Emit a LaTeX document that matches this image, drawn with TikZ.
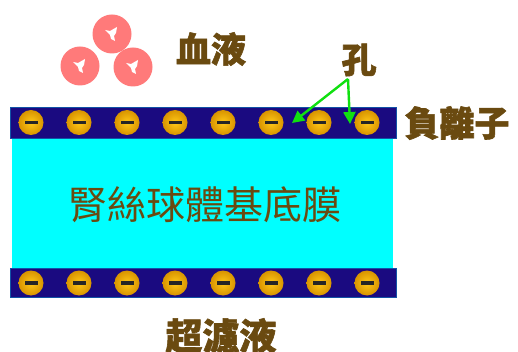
\documentclass[tikz,border=0pt]{standalone}
\usepackage{fontspec}
\newfontfamily\cjk[BoldFeatures={FakeBold=1.6}]{Noto Sans CJK TC}
\usetikzlibrary{arrows.meta,calc}
\definecolor{navyband}{HTML}{1A0A80}
\definecolor{membrane}{HTML}{00FFFF}
\definecolor{labelbrown}{HTML}{6A4A10}
\definecolor{cellpink}{HTML}{FF7A7A}
\definecolor{ionrim}{HTML}{D89400}
\definecolor{ioncore}{HTML}{FFC818}
\definecolor{arrowgreen}{HTML}{10E010}
\tikzset{
  band/.style={fill=navyband, draw=navyband!70!cyan, line width=0.8pt},
  label/.style={text=labelbrown, font=\cjk\bfseries\fontsize{35}{35}\selectfont, inner sep=0pt},
  anion/.style={circle, minimum size=25pt, inner sep=0pt,
    inner color=ioncore, outer color=ionrim},
  pointer/.style={draw=arrowgreen, line width=2.4pt,
    -{Triangle[length=12pt,width=12pt]}},
}
% a red cell with a small irregular pale spot in the middle
\newcommand{\bloodcell}[1]{%
  \fill[cellpink] (#1) circle[radius=19.5];
  \fill[white] ($(#1)+(-7,-4)$) -- ($(#1)+(-2,-3)$) -- ($(#1)+(5,-7)$) -- ($(#1)+(4,-1)$)
    -- ($(#1)+(2,2)$) -- ($(#1)+(3,7)$) -- ($(#1)+(-1,5)$) -- ($(#1)+(-2,1)$) -- cycle;
}
\begin{document}
\begin{tikzpicture}[x=1pt,y=-1pt]
  \useasboundingbox (0,0) rectangle (518,352);
  \fill[white] (0,0) rectangle (518,352);

  % basement membrane body
  \fill[membrane] (12,138) rectangle (393,268);
  \node[text=labelbrown, font=\cjk\fontsize{39}{39}\selectfont, inner sep=0pt] (gbm) at (205,205) {腎絲球體基底膜};

  % negatively charged layers
  \draw[band] (10,107) rectangle (396,138);
  \draw[band] (10,268) rectangle (396,297);
  \foreach \i in {0,...,7} {
    \node[anion] (t\i) at ({31+48*\i},122.5) {};
    \fill[black!85] ($(t\i)+(-6.5,-1.6)$) rectangle ($(t\i)+(6.5,1.6)$);
    \node[anion] (b\i) at ({31+48*\i},283) {};
    \fill[black!85] ($(b\i)+(-6.5,-1.6)$) rectangle ($(b\i)+(6.5,1.6)$);
  }

  % blood cells
  \bloodcell{80,66}
  \bloodcell{133,67}
  \bloodcell{112,34}

  % labels
  \node[label] (blood) at (211,49) {血液};
  \node[label] (pore) at (359,60) {孔};
  \node[label] (anionlbl) at (457,123) {負離子};
  \node[label, font=\cjk\bfseries\fontsize{37}{37}\selectfont, anchor=north] (filtrate) at (221,318) {超濾液};

  % pores
  \coordinate (apex) at (348,79);
  \coordinate (poreL) at (292,123);
  \coordinate (poreR) at (350,124);
  \draw[pointer] (apex) -- (poreL);
  \draw[pointer] (apex) -- (poreR);
\end{tikzpicture}
\end{document}
